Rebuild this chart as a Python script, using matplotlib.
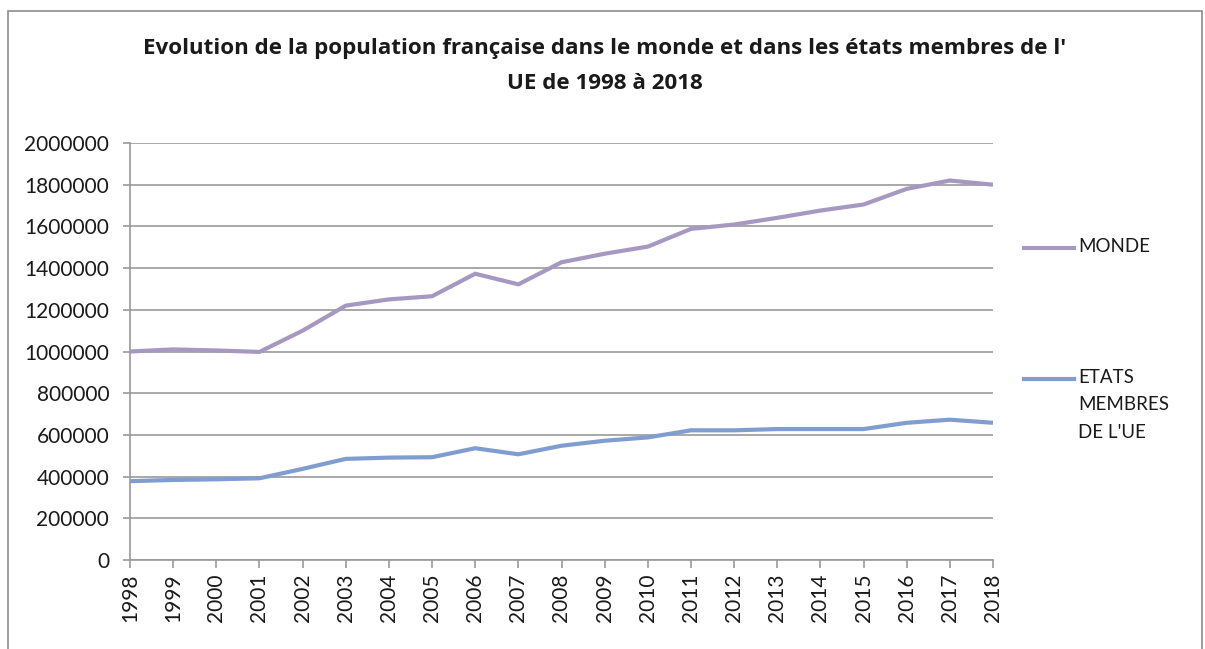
import matplotlib
matplotlib.use("Agg")
import matplotlib.pyplot as plt
from matplotlib.lines import Line2D
from matplotlib.patches import Rectangle

years = [str(y) for y in range(1998, 2019)]
monde = [1000000, 1010000, 1005000, 998000, 1100000, 1220000, 1250000, 1265000,
         1373000, 1322000, 1428000, 1469000, 1503000, 1588000, 1609000, 1641000,
         1676000, 1705000, 1780000, 1820000, 1800000]
ue = [378000, 384000, 387000, 392000, 437000, 485000, 491000, 493000,
      536000, 507000, 548000, 572000, 588000, 622000, 622000, 628000,
      628000, 628000, 658000, 673000, 658000]
series_names = ["MONDE", "ETATS\nMEMBRES\nDE L'UE"]
colors = ["#A699C1", "#809DCF"]
yticks = list(range(0, 2000001, 200000))
title = ("Evolution de la population française dans le monde et dans les états membres de l'\n"
         "UE de 1998 à 2018")

plt.rcParams['font.family'] = ['Lato', 'DejaVu Sans']

W, H = 1205, 649
fig = plt.figure(figsize=(W / 100, H / 100), dpi=100)
ax = fig.add_axes([130 / W, 1 - 560 / H, (993 - 130) / W, (560 - 143) / H])

x = list(range(len(years)))
ax.plot(x, monde, color=colors[0], lw=3.0, solid_capstyle='butt', zorder=3)
ax.plot(x, ue, color=colors[1], lw=3.0, solid_capstyle='butt', zorder=3)

ax.set_xlim(0, len(years) - 1)
ax.set_ylim(0, 2000000)
ax.set_yticks(yticks)
ax.set_yticklabels([str(v) for v in yticks])
ax.set_xticks(x)
ax.set_xticklabels(years, rotation=90)
ax.grid(axis='y', color='#9A9A9A', lw=1.2)
ax.set_axisbelow(True)
for s in ['top', 'right']:
    ax.spines[s].set_visible(False)
for s in ['left', 'bottom']:
    ax.spines[s].set_color('#9A9A9A')
    ax.spines[s].set_linewidth(1.2)
ax.tick_params(axis='y', length=5, width=1.2, color='#9A9A9A', labelsize=15, pad=10, labelcolor='#1a1a1a')
ax.tick_params(axis='x', length=6, width=1.2, color='#9A9A9A', labelsize=15, pad=4, labelcolor='#1a1a1a')

fig.text(605 / W, 1 - 66 / H, title, ha='center', va='center', fontsize=16.1,
         fontweight='bold', linespacing=1.9, color='#1a1a1a',
         family=['Open Sans', 'DejaVu Sans'])

# legend
leg_y = [248, 379]
for name, col, yy in zip(series_names, colors, leg_y):
    fig.add_artist(Line2D([1024 / W, 1074 / W], [1 - yy / H, 1 - yy / H], color=col,
                          lw=3.0, transform=fig.transFigure))
    fig.text(1078 / W, 1 - (yy - 10) / H, name, ha='left', va='top', fontsize=13.5,
             linespacing=1.75, color='#1a1a1a')

fig.add_artist(Rectangle((8 / W, -0.05), (1202 - 8) / W, 1 - 11 / H + 0.05,
                         transform=fig.transFigure, fill=False, edgecolor='#8C8C8C', lw=1.2))

fig.savefig("out.png", dpi=100)
